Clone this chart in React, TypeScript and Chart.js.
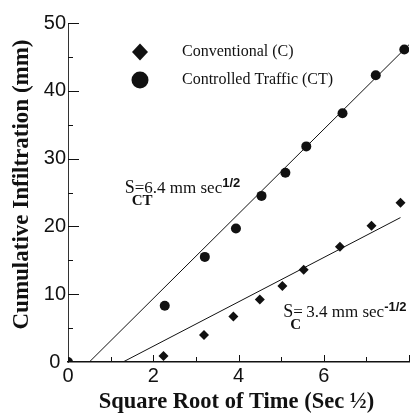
import { useEffect, useRef } from "react";
import { Chart, registerables } from "chart.js";

Chart.register(...registerables);

// ---- data ----
const ctSqrtTime = [0, 2.27, 3.21, 3.94, 4.54, 5.1, 5.59, 6.44, 7.22, 7.89];
const ctInfiltration = [0, 8.3, 15.5, 19.7, 24.5, 27.9, 31.8, 36.7, 42.3, 46.1];
const cSqrtTime = [2.24, 3.19, 3.88, 4.5, 5.03, 5.53, 6.38, 7.12, 7.8];
const cInfiltration = [0.9, 4.0, 6.7, 9.2, 11.2, 13.6, 17.0, 20.1, 23.5];
const ctFitX = [0.5, 8.0];
const ctFitY = [0, 46.8];
const cFitX = [1.29, 7.8];
const cFitY = [0, 21.3];
const xTicks = [0, 1, 2, 3, 4, 5, 6, 7, 8];
const xTickLabels = ["0", "", "2", "", "4", "", "6", "", ""];
const yTicks = [0, 5, 10, 15, 20, 25, 30, 35, 40, 45, 50];
const yTickLabels = ["0 ", "", "10", "", "20", "", "30", "", "40", "", "50"];
const legendLabels = ["Conventional (C)", "Controlled Traffic (CT)"];
const xTitle = "Square Root of Time (Sec \u00BD)";
const yTitle = "Cumulative Infiltration (mm)";
const ctSlopeText = { main: "S", sub: "CT", rest: "=6.4 mm sec", sup: "1/2", x: 1.33, y: 24.9 };
const cSlopeText = { main: "S", sub: "C", rest: "=\u20093.4 mm sec", sup: "-1/2", x: 5.05, y: 6.6 };

const SERIF = "'Liberation Serif', 'Times New Roman', serif";
const SANS = "'Liberation Sans', Arial, sans-serif";

function toPts(xs: number[], ys: number[]) {
  return xs.map((x, i) => ({ x, y: ys[i] }));
}

const decorPlugin = {
  id: "decor",
  afterDraw(chart: any) {
    const ctx = chart.ctx as CanvasRenderingContext2D;
    const xs = chart.scales.x;
    const ys = chart.scales.y;
    const area = chart.chartArea;
    ctx.save();
    ctx.strokeStyle = "#111";
    ctx.lineWidth = 1;
    // x ticks (inward, upward)
    xTicks.forEach((v, i) => {
      if (v === 0) return;
      const px = Math.round(xs.getPixelForValue(v)) + 0.5;
      const len = i % 2 === 0 ? 7 : 5;
      ctx.beginPath();
      ctx.moveTo(px, area.bottom);
      ctx.lineTo(px, area.bottom - len);
      ctx.stroke();
    });
    // y ticks (inward, rightward)
    yTicks.forEach((v, i) => {
      if (v === 0) return;
      const py = Math.round(ys.getPixelForValue(v)) + 0.5;
      const len = i % 2 === 0 ? 11 : 5;
      ctx.beginPath();
      ctx.moveTo(area.left, py);
      ctx.lineTo(area.left + len, py);
      ctx.stroke();
    });

    // axis titles
    ctx.fillStyle = "#111";
    ctx.textAlign = "center";
    ctx.textBaseline = "middle";
    ctx.font = `bold 22.5px ${SERIF}`;
    ctx.fillText(xTitle, (area.left + area.right) / 2 - 2, area.bottom + 40);
    ctx.save();
    ctx.translate(22, (area.top + area.bottom) / 2 - 8);
    ctx.rotate(-Math.PI / 2);
    ctx.font = `bold 23px ${SERIF}`;
    ctx.fillText(yTitle, 0, 0);
    ctx.restore();

    // legend
    const lx = area.left + 72;
    const ly1 = area.top + 29;
    const ly2 = area.top + 57;
    ctx.beginPath();
    ctx.moveTo(lx, ly1 - 8.5);
    ctx.lineTo(lx + 8, ly1);
    ctx.lineTo(lx, ly1 + 8.5);
    ctx.lineTo(lx - 8, ly1);
    ctx.closePath();
    ctx.fill();
    ctx.beginPath();
    ctx.arc(lx, ly2, 8.5, 0, Math.PI * 2);
    ctx.fill();
    ctx.font = `16px ${SERIF}`;
    ctx.textBaseline = "middle";
    ctx.textAlign = "left";
    ctx.fillText(legendLabels[0], lx + 42, ly1);
    ctx.fillText(legendLabels[1], lx + 42, ly2);

    // slope annotations
    const drawSlope = (t: any) => {
      const bx = xs.getPixelForValue(t.x);
      const by = ys.getPixelForValue(t.y);
      ctx.textBaseline = "alphabetic";
      ctx.font = `18px ${SERIF}`;
      ctx.fillText(t.main, bx, by);
      const sw = ctx.measureText(t.main).width;
      ctx.font = `17px ${SERIF}`;
      ctx.fillText(t.rest, bx + sw, by);
      const rw = ctx.measureText(t.rest).width;
      ctx.font = `bold 15px ${SERIF}`;
      ctx.fillText(t.sub, bx + sw * 0.7, by + 12);
      ctx.font = `bold 13px ${SANS}`;
      ctx.fillText(t.sup, bx + sw + rw, by - 6);
    };
    drawSlope(ctSlopeText);
    drawSlope(cSlopeText);
    ctx.restore();
  },
};

export default function App() {
  const ref = useRef<HTMLCanvasElement | null>(null);
  useEffect(() => {
    document.body.style.margin = "0";
    const canvas = ref.current!;
    const chart = new Chart(canvas, {
      type: "scatter",
      data: {
        datasets: [
          {
            label: "CT fit",
            type: "line",
            data: toPts(ctFitX, ctFitY),
            borderColor: "#111",
            borderWidth: 1,
            pointRadius: 0,
            showLine: true,
            fill: false,
          },
          {
            label: "C fit",
            type: "line",
            data: toPts(cFitX, cFitY),
            borderColor: "#111",
            borderWidth: 1,
            pointRadius: 0,
            showLine: true,
            fill: false,
          },
          {
            label: legendLabels[0],
            data: toPts(cSqrtTime, cInfiltration),
            pointStyle: "rectRot",
            pointRadius: 5,
            backgroundColor: "#111",
            borderColor: "#111",
            borderWidth: 0,
          },
          {
            label: legendLabels[1],
            data: toPts(ctSqrtTime, ctInfiltration),
            pointStyle: "circle",
            pointRadius: 5,
            backgroundColor: "#111",
            borderColor: "#111",
            borderWidth: 0,
          },
        ],
      } as any,
      options: {
        animation: false,
        responsive: false,
        maintainAspectRatio: false,
        layout: { padding: { top: 23, right: 2, left: 0, bottom: 0 } },
        plugins: { legend: { display: false }, tooltip: { enabled: false } },
        scales: {
          x: {
            type: "linear",
            min: 0,
            max: 8,
            grid: { display: false },
            border: { display: true, color: "#111", width: 1.5 },
            ticks: {
              stepSize: 1,
              autoSkip: false,
              maxRotation: 0,
              padding: -6,
              color: "#111",
              font: { family: SANS, size: 20 },
              callback: (v: any) => xTickLabels[xTicks.indexOf(Number(v))] ?? "",
            },
            afterFit: (s: any) => {
              s.height = 57;
            },
          },
          y: {
            type: "linear",
            min: 0,
            max: 50,
            grid: { display: false },
            border: { display: true, color: "#333", width: 1, dash: [4, 2] },
            ticks: {
              stepSize: 10,
              padding: -6,
              color: "#111",
              font: { family: SANS, size: 20 },
              callback: (v: any) => yTickLabels[yTicks.indexOf(Number(v))] ?? "",
            },
            afterFit: (s: any) => {
              s.width = 68;
            },
          },
        },
      },
      plugins: [decorPlugin],
    } as any);
    return () => chart.destroy();
  }, []);
  return <canvas ref={ref} width={414} height={419} style={{ display: "block" }} />;
}
